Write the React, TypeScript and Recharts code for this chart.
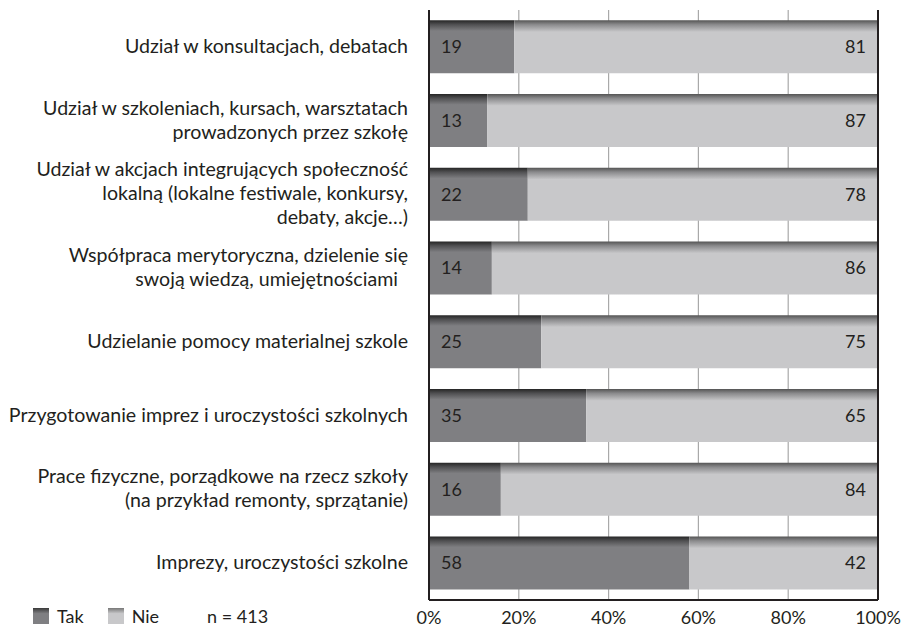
import React from "react";
import {
  Bar,
  BarChart,
  CartesianGrid,
  LabelList,
  ReferenceLine,
  XAxis,
  YAxis,
} from "recharts";

const categories = [
  "Udział w konsultacjach, debatach",
  "Udział w szkoleniach, kursach, warsztatach\nprowadzonych przez szkołę",
  "Udział w akcjach integrujących społeczność\nlokalną (lokalne festiwale, konkursy,\ndebaty, akcje…)",
  "Współpraca merytoryczna, dzielenie się\nswoją wiedzą, umiejętnościami\u00a0\u00a0",
  "Udzielanie pomocy materialnej szkole",
  "Przygotowanie imprez i uroczystości szkolnych",
  "Prace fizyczne, porządkowe na rzecz szkoły\n(na przykład remonty, sprzątanie)",
  "Imprezy, uroczystości szkolne",
];
const tak = [19, 13, 22, 14, 25, 35, 16, 58];
const nie = [81, 87, 78, 86, 75, 65, 84, 42];
const xTicks = [0, 20, 40, 60, 80, 100];

const data = categories.map((name, i) => ({ name, tak: tak[i], nie: nie[i] }));

const FONT = "Lato, 'Open Sans', sans-serif";
const TEXT = "#231f20";

function CategoryTick({ x, y, payload }: any) {
  const lines = String(payload.value).split("\n");
  const lh = 24;
  return (
    <text x={x} y={y} textAnchor="end" fontFamily={FONT} fontSize={19.6} fill={TEXT}>
      {lines.map((l, i) => (
        <tspan key={i} x={x} dy={i === 0 ? -((lines.length - 1) * lh) / 2 + 6 : lh}>
          {l}
        </tspan>
      ))}
    </text>
  );
}

export default function App() {
  return (
    <div style={{ position: "absolute", left: 0, top: 0, width: 902, height: 628, background: "#fff" }}>
      <BarChart
        width={902}
        height={628}
        data={data}
        layout="vertical"
        margin={{ top: 10, right: 24, left: 0, bottom: 0 }}
        barCategoryGap="14%"
      >
        <defs>
          <linearGradient id="gTak" x1="0" y1="0" x2="0" y2="1">
            <stop offset="0" stopColor="#262626" />
            <stop offset="0.08" stopColor="#505052" />
            <stop offset="0.2" stopColor="#7f7f82" />
            <stop offset="1" stopColor="#7f7f82" />
          </linearGradient>
          <linearGradient id="gNie" x1="0" y1="0" x2="0" y2="1">
            <stop offset="0" stopColor="#555555" />
            <stop offset="0.08" stopColor="#8a8a8c" />
            <stop offset="0.22" stopColor="#c8c8ca" />
            <stop offset="1" stopColor="#c8c8ca" />
          </linearGradient>
        </defs>
        <CartesianGrid horizontal={false} stroke="#a9a9a9" strokeWidth={1.2} />
        <XAxis
          type="number"
          domain={[0, 100]}
          ticks={xTicks}
          tickFormatter={(v) => `${v}%`}
          height={28}
          axisLine={{ stroke: TEXT, strokeWidth: 2 }}
          tickLine={false}
          tickSize={0}
          tickMargin={11}
          tick={{ fontFamily: FONT, fontSize: 18, fill: TEXT }}
          interval={0}
        />
        <YAxis
          type="category"
          dataKey="name"
          width={429}
          axisLine={{ stroke: TEXT, strokeWidth: 2 }}
          tickLine={false}
          tickSize={0}
          tickMargin={21}
          tick={<CategoryTick />}
          interval={0}
        />
        <ReferenceLine x={100} stroke={TEXT} strokeWidth={2} />
        <Bar dataKey="tak" stackId="a" fill="url(#gTak)" isAnimationActive={false}>
          <LabelList
            dataKey="tak"
            position="insideLeft"
            offset={12}
            style={{ fontFamily: FONT, fontSize: 18, fill: TEXT }}
          />
        </Bar>
        <Bar dataKey="nie" stackId="a" fill="url(#gNie)" isAnimationActive={false}>
          <LabelList
            dataKey="nie"
            position="insideRight"
            offset={12}
            style={{ fontFamily: FONT, fontSize: 18, fill: TEXT }}
          />
        </Bar>
      </BarChart>
      <div
        style={{
          position: "absolute",
          left: 33,
          top: 606,
          height: 20,
          display: "flex",
          alignItems: "center",
          fontFamily: FONT,
          fontSize: 18,
          color: TEXT,
          lineHeight: "20px",
        }}
      >
        <span
          style={{
            width: 16,
            height: 16,
            background: "linear-gradient(#3a3a3a, #7f7f82 35%)",
            display: "inline-block",
          }}
        />
        <span style={{ marginLeft: 8 }}>Tak</span>
        <span
          style={{
            width: 16,
            height: 16,
            background: "linear-gradient(#777, #c8c8ca 35%)",
            display: "inline-block",
            marginLeft: 24,
          }}
        />
        <span style={{ marginLeft: 8 }}>Nie</span>
        <span style={{ marginLeft: 48 }}>n = 413</span>
      </div>
    </div>
  );
}
